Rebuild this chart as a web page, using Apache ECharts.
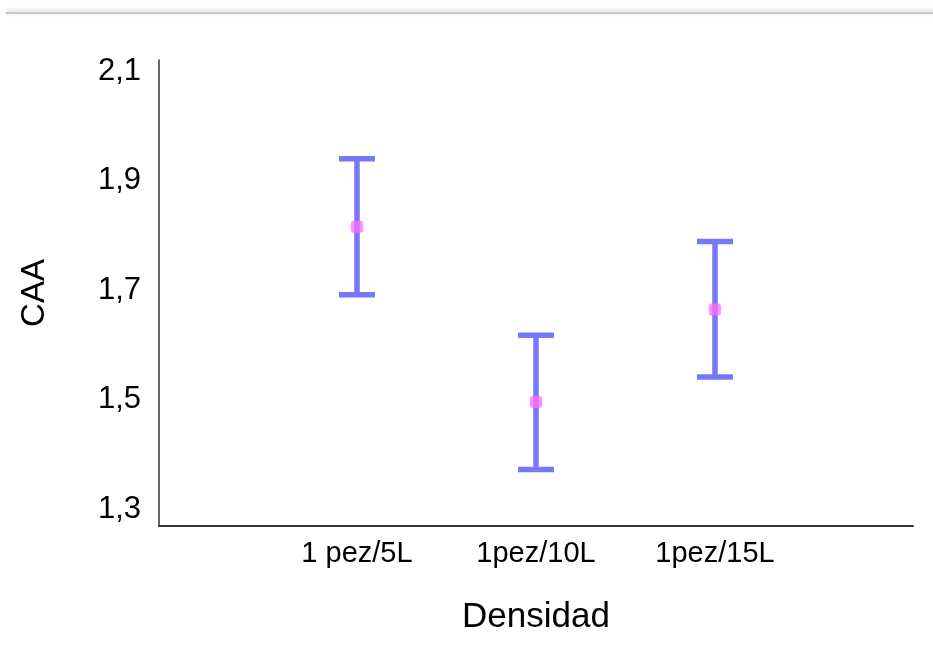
<!DOCTYPE html>
<html>
<head>
<meta charset="utf-8">
<script src="https://cdn.jsdelivr.net/npm/echarts@6/dist/echarts.min.js"></script>
<style>
  html, body { margin: 0; padding: 0; background: #fff; }
  #chart { width: 933px; height: 647px; }
</style>
</head>
<body>
<div id="chart"></div>
<script>
// Densidad groups and the CAA mean with its interval bounds
const categories = ['1 pez/5L', '1pez/10L', '1pez/15L'];
const means = [1.816, 1.496, 1.665];
const lower = [1.692, 1.373, 1.542];
const upper = [1.940, 1.618, 1.789];
const yTicks = [1.3, 1.5, 1.7, 1.9, 2.1];

const FONT = '"Liberation Sans", Arial, sans-serif';
const BAR = '#7777fb';

const intervals = categories.map((c, i) => [i + 1, lower[i], upper[i]]);
const points = categories.map((c, i) => [i + 1, means[i]]);

const chart = echarts.init(document.getElementById('chart'), null, { renderer: 'canvas' });

chart.setOption({
  backgroundColor: '#fff',
  animation: false,
  graphic: [{
    type: 'rect',
    shape: { x: 6, y: 12, width: 940, height: 2 },
    style: { fill: '#c6c6c6', shadowBlur: 4, shadowColor: 'rgba(0,0,0,0.25)', shadowOffsetY: -1 },
    z: 10
  }],
  grid: { left: 159, right: 20, top: 60, bottom: 121 },
  xAxis: {
    type: 'value',
    min: -0.106,
    max: 4.106,
    name: 'Densidad',
    nameLocation: 'middle',
    nameGap: 74,
    nameTextStyle: { fontFamily: FONT, fontSize: 35, color: '#000' },
    axisLine: { show: true, onZero: false, lineStyle: { color: '#333', width: 2 } },
    axisTick: { show: false },
    splitLine: { show: false },
    axisLabel: {
      customValues: [1, 2, 3],
      formatter: v => categories[Math.round(v) - 1] || '',
      fontFamily: FONT,
      fontSize: 29,
      color: '#000',
      margin: 13
    }
  },
  yAxis: {
    type: 'value',
    min: 1.27,
    max: 2.12,
    name: 'CAA',
    nameLocation: 'middle',
    nameGap: 108,
    nameRotate: 90,
    nameTextStyle: { fontFamily: FONT, fontSize: 33, color: '#000' },
    axisLine: { show: true, onZero: false, lineStyle: { color: '#333', width: 1.5 } },
    axisTick: { show: false },
    splitLine: { show: false },
    axisLabel: {
      customValues: yTicks,
      formatter: v => v.toFixed(1).replace('.', ','),
      fontFamily: FONT,
      fontSize: 31,
      color: '#000',
      margin: 18
    }
  },
  series: [
    {
      type: 'custom',
      data: intervals,
      encode: { x: 0, y: [1, 2] },
      renderItem: function (params, api) {
        const x = api.value(0);
        const lo = api.coord([x, api.value(1)]);
        const hi = api.coord([x, api.value(2)]);
        const half = 18;
        const style = { stroke: BAR, lineWidth: 5.5, lineCap: 'butt' };
        return {
          type: 'group',
          children: [
            { type: 'line', shape: { x1: lo[0], y1: lo[1], x2: hi[0], y2: hi[1] }, style: style },
            { type: 'line', shape: { x1: hi[0] - half, y1: hi[1], x2: hi[0] + half, y2: hi[1] }, style: style },
            { type: 'line', shape: { x1: lo[0] - half, y1: lo[1], x2: lo[0] + half, y2: lo[1] }, style: style }
          ]
        };
      },
      z: 2
    },
    {
      type: 'scatter',
      data: points,
      symbol: 'roundRect',
      symbolSize: [12, 12],
      itemStyle: { color: 'rgba(255, 110, 255, 0.8)', shadowBlur: 2, shadowColor: 'rgba(255,110,255,0.6)' },
      z: 3
    }
  ]
});
</script>
</body>
</html>
